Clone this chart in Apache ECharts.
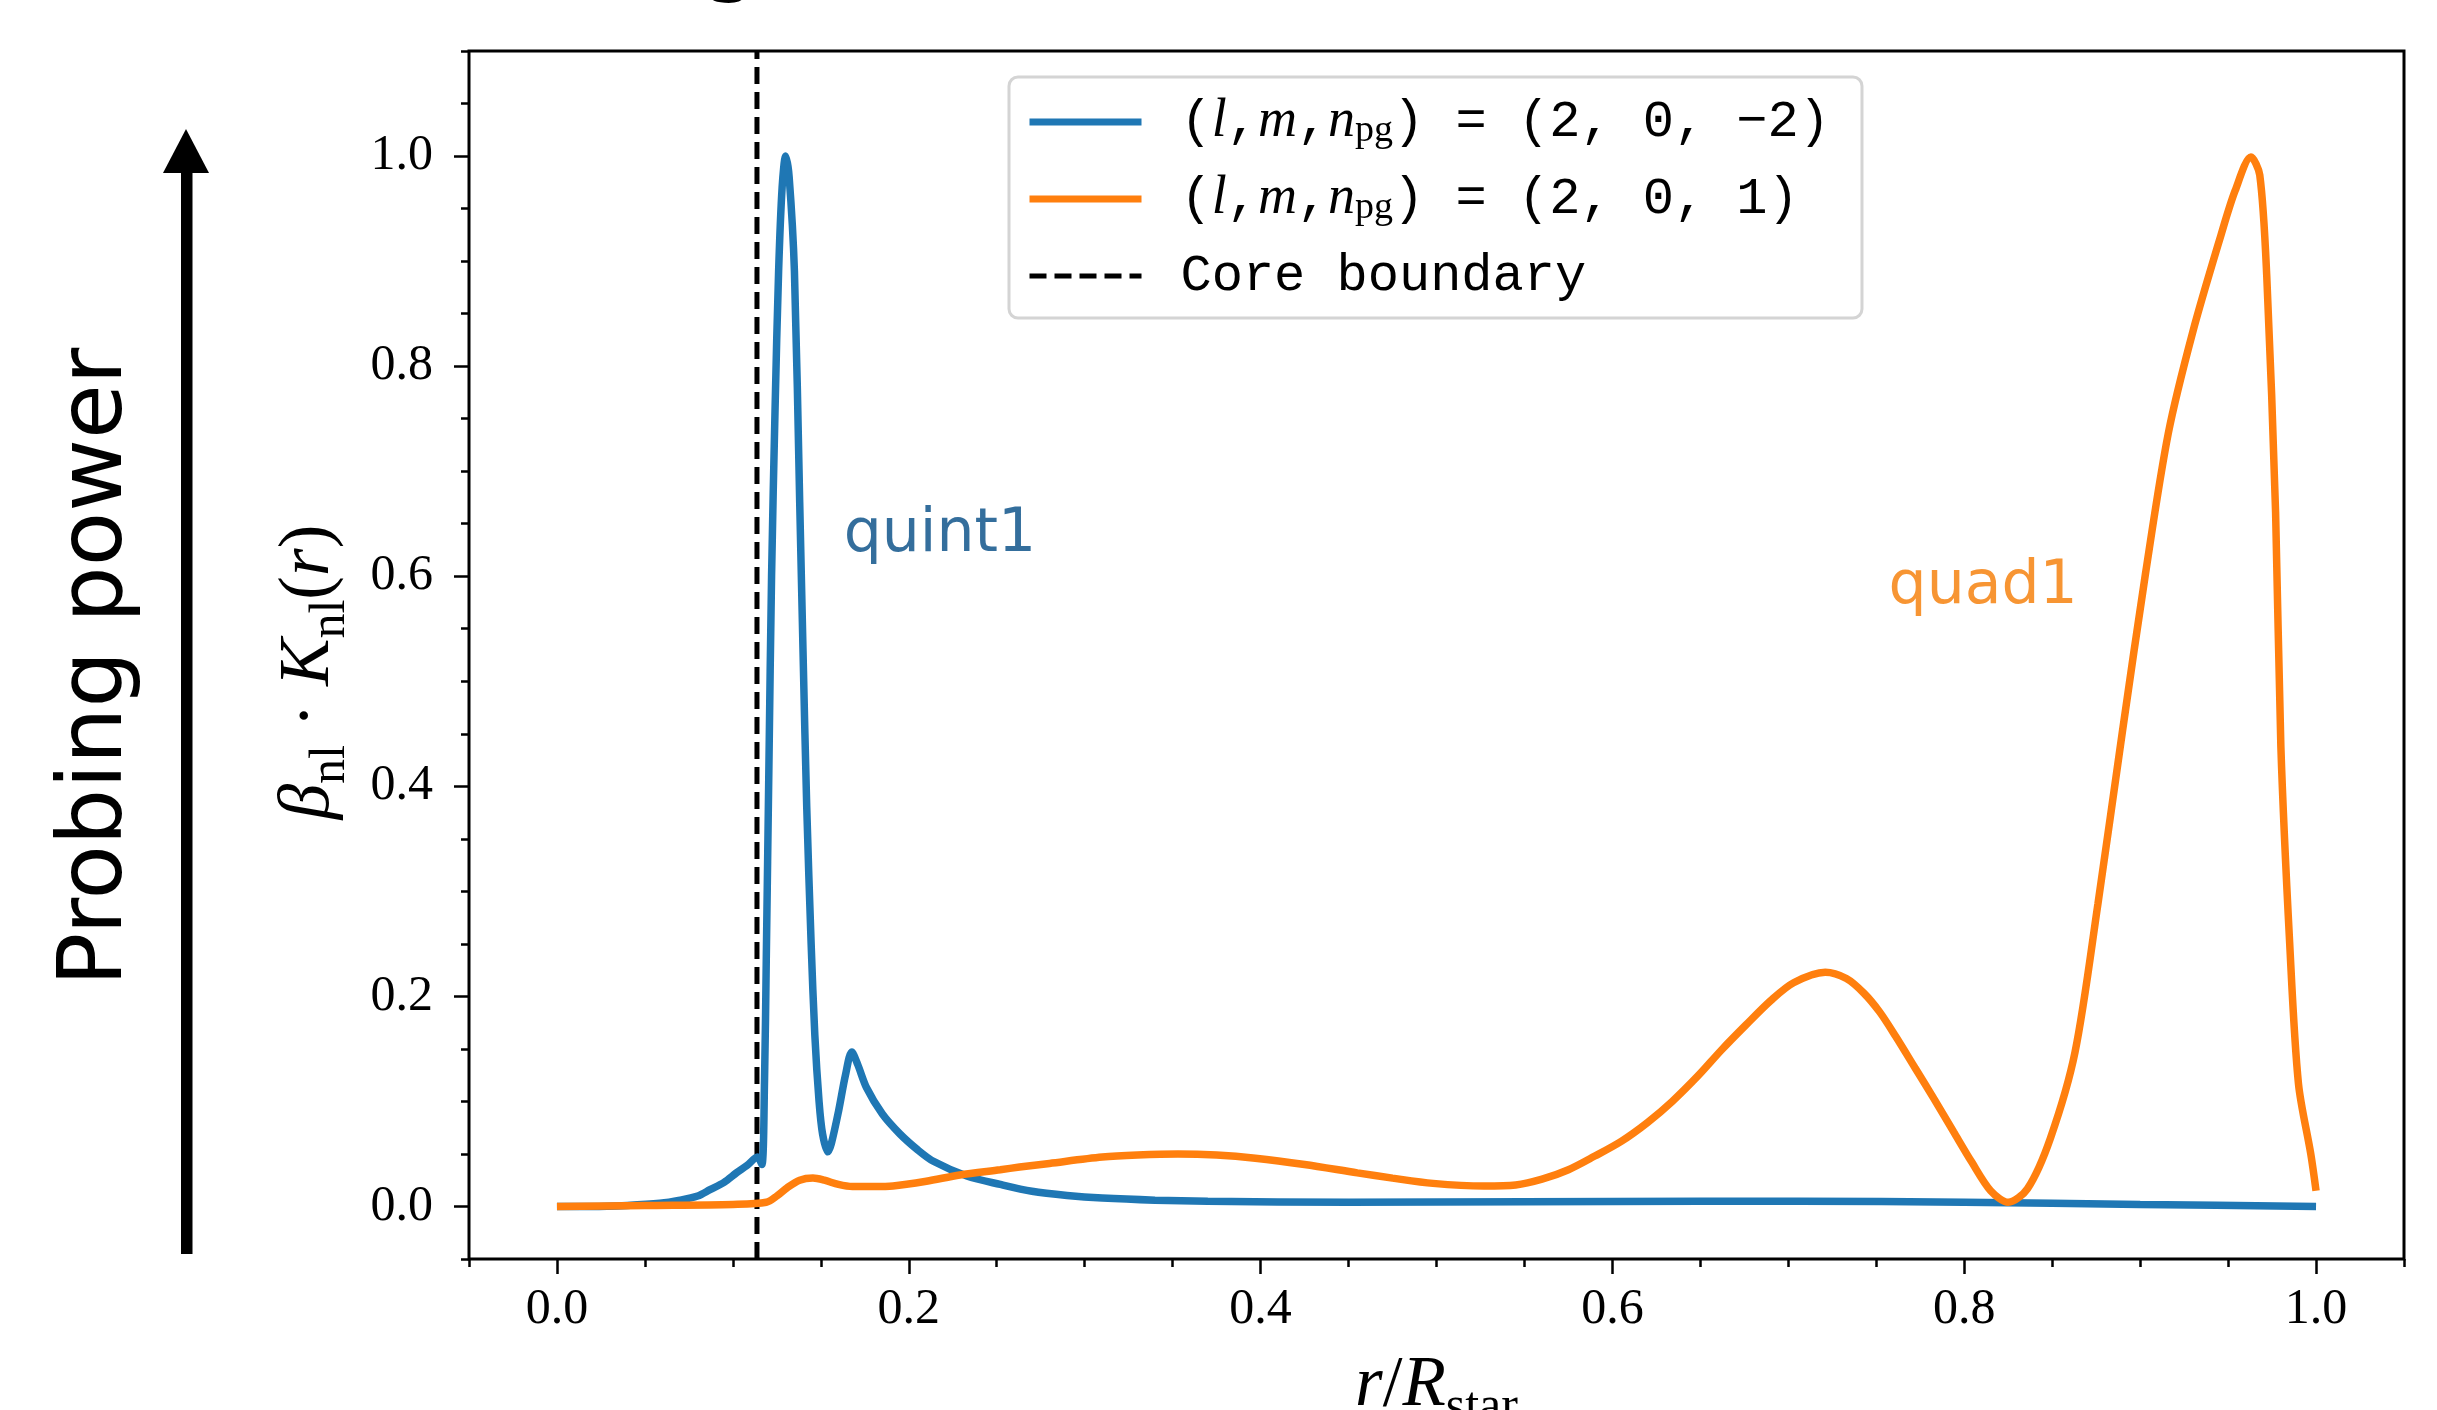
<!DOCTYPE html>
<html>
<head>
<meta charset="utf-8">
<script src="https://cdn.jsdelivr.net/npm/echarts@6/dist/echarts.min.js"></script>
<style>
  html, body { margin: 0; padding: 0; background: #fff; }
  #chart { width: 2437px; height: 1410px; }
</style>
</head>
<body>
<div id="chart"></div>
<script>
// values
const coreBoundary = 0.1137;

const blueR = [0.0, 0.02, 0.04, 0.0585, 0.07, 0.08, 0.087, 0.095, 0.102, 0.108, 0.114, 0.1165,
  0.118, 0.119, 0.1205, 0.122, 0.124, 0.126, 0.128, 0.130, 0.132, 0.135, 0.138, 0.140, 0.142,
  0.1445, 0.1466, 0.149, 0.151, 0.154, 0.156, 0.160, 0.164, 0.1676, 0.171, 0.176, 0.185, 0.195,
  0.205, 0.214, 0.233, 0.252, 0.27, 0.29, 0.31, 0.34, 0.37, 0.45, 0.55, 0.65, 0.706, 0.8, 0.9, 1.0];
const blueK = [0.0, 0.0, 0.001, 0.003, 0.006, 0.010, 0.016, 0.023, 0.032, 0.039, 0.047, 0.040,
  0.12, 0.236, 0.42, 0.6, 0.76, 0.89, 0.97, 1.0, 0.98, 0.89, 0.67, 0.52, 0.38,
  0.25, 0.163, 0.10, 0.069, 0.052, 0.06, 0.09, 0.125, 0.147, 0.135, 0.113, 0.088, 0.069,
  0.054, 0.043, 0.029, 0.021, 0.0145, 0.0105, 0.008, 0.006, 0.005, 0.004, 0.0045, 0.005, 0.005, 0.004, 0.002, 0.0];

const orangeR = [0.0, 0.05, 0.1, 0.119, 0.125, 0.131, 0.138, 0.1455, 0.152, 0.16, 0.168, 0.18,
  0.191, 0.21, 0.229, 0.252, 0.263, 0.28, 0.31, 0.33, 0.353, 0.375, 0.397, 0.425, 0.455, 0.475,
  0.498, 0.527, 0.545, 0.56, 0.575, 0.59, 0.605, 0.62, 0.634, 0.649, 0.662, 0.676, 0.69, 0.703,
  0.721, 0.733, 0.743, 0.752, 0.761, 0.772, 0.783, 0.794, 0.804, 0.815, 0.825, 0.836, 0.849,
  0.863, 0.876, 0.89, 0.903, 0.916, 0.93, 0.946, 0.954, 0.963, 0.968, 0.972, 0.977, 0.98,
  0.985, 0.99, 0.997, 1.0];
const orangeK = [0.0, 0.001, 0.002, 0.004, 0.010, 0.018, 0.025, 0.027, 0.025, 0.021, 0.019, 0.019,
  0.0195, 0.024, 0.030, 0.035, 0.0375, 0.041, 0.047, 0.049, 0.050, 0.049, 0.046, 0.040, 0.032, 0.027,
  0.022, 0.0195, 0.0205, 0.026, 0.035, 0.048, 0.062, 0.080, 0.100, 0.125, 0.149, 0.173, 0.196, 0.213,
  0.223, 0.217, 0.203, 0.185, 0.162, 0.132, 0.102, 0.071, 0.043, 0.015, 0.004, 0.017, 0.065,
  0.147, 0.288, 0.453, 0.602, 0.736, 0.833, 0.925, 0.967, 0.999, 0.982, 0.885, 0.661, 0.438,
  0.251, 0.117, 0.05, 0.015];

const xTickLabels = ['0.0', '0.2', '0.4', '0.6', '0.8', '1.0'];
const yTickLabels = ['0.0', '0.2', '0.4', '0.6', '0.8', '1.0'];

const annotations = [
  { text: 'quint1', r: 0.163, k: 0.639, color: '#014a83' },
  { text: 'quad1', r: 0.757, k: 0.589, color: '#f57a00' }
];

// frame of the axes and its data range
const frame = { left: 469, top: 51, width: 1935, height: 1208 };
const xRange = [-0.05, 1.05];
const yRange = [-0.05, 1.1];
const pxX = v => frame.left + (v - xRange[0]) / (xRange[1] - xRange[0]) * frame.width;
const pxY = v => frame.top + (yRange[1] - v) / (yRange[1] - yRange[0]) * frame.height;

const serif = 'Liberation Serif';
const mono = 'Liberation Mono';
const sans = 'DejaVu Sans';

const mathRich = {
  b: { fontFamily: serif, fontStyle: 'italic', fontSize: 71, lineHeight: 94, color: '#000' },
  u: { fontFamily: serif, fontSize: 71, lineHeight: 94, color: '#000' },
  s: { fontFamily: serif, fontSize: 50, lineHeight: 50, verticalAlign: 'bottom', color: '#000' }
};

const legendRich = {
  m: { fontFamily: mono, fontSize: 52, lineHeight: 56, color: '#000' },
  i: { fontFamily: serif, fontStyle: 'italic', fontSize: 54, lineHeight: 56, color: '#000' },
  s: { fontFamily: serif, fontSize: 38, lineHeight: 26, verticalAlign: 'bottom', color: '#000' }
};
const legendText = {
  blue: '{m|(}{i|l}{m|,}{i|m}{m|,}{i|n}{s|pg}{m|) = (2, 0, \u22122)}',
  orange: '{m|(}{i|l}{m|,}{i|m}{m|,}{i|n}{s|pg}{m|) = (2, 0, 1)}',
  core: '{m|Core boundary}'
};

const noLine = { show: false, onZero: false };
const minorTick = { show: true, inside: false, length: 8, lineStyle: { color: '#000', width: 2.5 } };
const majorTick = { show: true, inside: false, length: 15, lineStyle: { color: '#000', width: 2.5 } };
const tickFont = { fontFamily: serif, fontSize: 50, color: '#000', lineHeight: 50 };
const gridBase = { containLabel: false, outerBoundsMode: 'none' };

const chart = echarts.init(document.getElementById('chart'));

chart.setOption({
  animation: false,
  backgroundColor: '#fff',
  grid: [
    // frame, minor ticks, data
    Object.assign({ left: frame.left, top: frame.top, width: frame.width, height: frame.height,
      show: true, borderColor: '#000', borderWidth: 3, backgroundColor: 'transparent' }, gridBase),
    // x major ticks: 0..1
    Object.assign({ left: pxX(0), top: frame.top, width: pxX(1) - pxX(0), height: frame.height }, gridBase),
    // y major ticks: 0..1
    Object.assign({ left: frame.left, top: pxY(1), width: frame.width, height: pxY(0) - pxY(1) }, gridBase)
  ],
  xAxis: [
    { gridIndex: 0, type: 'value', min: xRange[0], max: xRange[1], interval: 0.05,
      axisLine: noLine, axisTick: minorTick, axisLabel: { show: false }, splitLine: { show: false },
      name: '{b|r}{u|/}{b|R}{s|star}', nameLocation: 'middle', nameGap: 80,
      nameTextStyle: { rich: mathRich } },
    { gridIndex: 1, type: 'value', min: 0, max: 1, interval: 0.2,
      axisLine: noLine, axisTick: majorTick, splitLine: { show: false },
      axisLabel: Object.assign({ margin: 26, formatter: v => xTickLabels[Math.round(v / 0.2)] }, tickFont) },
    { gridIndex: 2, type: 'value', min: xRange[0], max: xRange[1], show: false, axisLine: noLine }
  ],
  yAxis: [
    { gridIndex: 0, type: 'value', min: yRange[0], max: yRange[1], interval: 0.05,
      axisLine: noLine, axisTick: minorTick, axisLabel: { show: false }, splitLine: { show: false },
      name: '{b|\u03b2}{s|nl}{u| \u00b7 }{b|K}{s|nl}{u|(}{b|r}{u|)}', nameLocation: 'middle', nameGap: 113,
      nameTextStyle: { rich: mathRich, padding: [0, 34, 0, 0] } },
    { gridIndex: 1, type: 'value', min: yRange[0], max: yRange[1], show: false, axisLine: noLine },
    { gridIndex: 2, type: 'value', min: 0, max: 1, interval: 0.2,
      axisLine: noLine, axisTick: majorTick, splitLine: { show: false },
      axisLabel: Object.assign({ margin: 36, formatter: v => yTickLabels[Math.round(v / 0.2)] }, tickFont) }
  ],
  legend: {
    data: [
      { name: 'blue', lineStyle: { width: 7 } },
      { name: 'orange', lineStyle: { width: 7 } },
      { name: 'core', lineStyle: { width: 5 } }
    ],
    left: 1009, top: 77,
    orient: 'vertical',
    itemWidth: 112, itemHeight: 20, itemGap: 21,
    padding: [17, 32, 14, 17],
    backgroundColor: '#fff',
    borderColor: '#d4d4d4', borderWidth: 3, borderRadius: 9,
    itemStyle: { opacity: 0 },
    formatter: name => legendText[name],
    textStyle: { fontFamily: mono, fontSize: 52, lineHeight: 56, padding: [0, 0, 0, 34], rich: legendRich }
  },
  series: [
    { name: 'blue', type: 'line', xAxisIndex: 0, yAxisIndex: 0, symbol: 'none', smooth: 0.3,
      data: blueR.map((r, i) => [r, blueK[i]]),
      lineStyle: { color: '#1f77b4', width: 7.5 }, itemStyle: { color: '#1f77b4' }, z: 3 },
    { name: 'orange', type: 'line', xAxisIndex: 0, yAxisIndex: 0, symbol: 'none', smooth: 0.3,
      data: orangeR.map((r, i) => [r, orangeK[i]]),
      lineStyle: { color: '#ff7f0e', width: 7.5 }, itemStyle: { color: '#ff7f0e' }, z: 3 },
    { name: 'core', type: 'line', xAxisIndex: 0, yAxisIndex: 0, symbol: 'none',
      data: [[coreBoundary, yRange[0]], [coreBoundary, yRange[1]]],
      lineStyle: { color: '#000', width: 5, type: [17, 8] }, itemStyle: { color: '#000' }, z: 2 },
    { name: 'labels', type: 'scatter', xAxisIndex: 0, yAxisIndex: 0, symbolSize: 0, silent: true,
      data: annotations.map(a => ({
        value: [a.r, a.k],
        label: { show: true, formatter: a.text, position: [0, 0], align: 'left', verticalAlign: 'middle',
          fontFamily: sans, fontSize: 60, color: a.color }
      })) }
  ],
  graphic: [
    { type: 'rect', shape: { x: 181, y: 168, width: 11.5, height: 1086 }, style: { fill: '#000' } },
    { type: 'polygon', shape: { points: [[163, 173], [209, 173], [186, 129]] }, style: { fill: '#000' } },
    { type: 'text', x: 98, y: 667, rotation: Math.PI / 2,
      style: { text: 'Probing power', font: '89px "DejaVu Sans"', fill: '#000',
        align: 'center', verticalAlign: 'middle', textAlign: 'center', textVerticalAlign: 'middle' } },
    { type: 'text', x: 731, y: -39,
      style: { text: 'g', font: '90px "DejaVu Sans"', fill: '#000',
        align: 'center', verticalAlign: 'middle', textAlign: 'center', textVerticalAlign: 'middle' } }
  ]
});
</script>
</body>
</html>
